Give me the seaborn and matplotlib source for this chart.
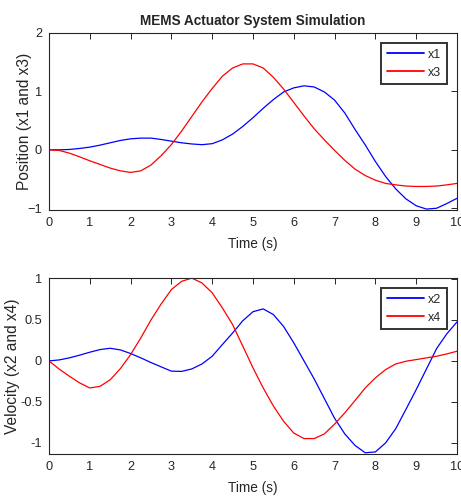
import numpy as np
import pandas as pd
import seaborn as sns
import matplotlib
matplotlib.use("Agg")
import matplotlib.pyplot as plt

# time samples (s)
t = np.arange(0, 10.01, 0.25)

# positions
x1 = [0, 0.0, 0.006, 0.023, 0.046, 0.08, 0.12, 0.16, 0.188, 0.2, 0.2,
      0.177, 0.148, 0.12, 0.1, 0.088, 0.105, 0.17, 0.27, 0.4, 0.55,
      0.71, 0.86, 0.99, 1.06, 1.095, 1.075, 0.99, 0.85, 0.63, 0.35,
      0.085, -0.2, -0.456, -0.67, -0.84, -0.957, -1.014, -1.0, -0.92, -0.83]
x3 = [0, -0.011, -0.057, -0.12, -0.188, -0.25, -0.313, -0.36, -0.387, -0.36, -0.26,
      -0.1, 0.09, 0.32, 0.57, 0.82, 1.05, 1.26, 1.4, 1.47, 1.47,
      1.4, 1.24, 1.04, 0.81, 0.58, 0.36, 0.17, -0.01, -0.18, -0.33,
      -0.44, -0.52, -0.575, -0.6, -0.62, -0.627, -0.627, -0.62, -0.6, -0.575]

# velocities
x2 = [0, 0.012, 0.037, 0.07, 0.106, 0.138, 0.154, 0.134, 0.09, 0.037, -0.02,
      -0.073, -0.125, -0.128, -0.098, -0.037, 0.057, 0.2, 0.34, 0.49, 0.6,
      0.634, 0.565, 0.42, 0.22, 0.0, -0.22, -0.46, -0.7, -0.89, -1.03,
      -1.12, -1.11, -1.0, -0.825, -0.59, -0.35, -0.1, 0.15, 0.33, 0.475]
x4 = [0, -0.1, -0.187, -0.268, -0.33, -0.31, -0.23, -0.094, 0.077, 0.28, 0.5,
      0.695, 0.87, 0.97, 1.01, 0.95, 0.83, 0.646, 0.443, 0.18, -0.085,
      -0.33, -0.55, -0.736, -0.88, -0.947, -0.947, -0.89, -0.77, -0.634, -0.484,
      -0.33, -0.207, -0.106, -0.037, -0.004, 0.016, 0.037, 0.057, 0.085, 0.118]

sns.set_style("white")
plt.rcParams['font.family'] = ['Liberation Sans', 'DejaVu Sans']

fig = plt.figure(figsize=(4.61, 4.96), dpi=100)
ax1 = fig.add_axes([0.1063, 0.5766, 0.885, 0.357])
ax2 = fig.add_axes([0.1063, 0.0847, 0.885, 0.355])

pos = pd.DataFrame({"Time": t, "x1": x1, "x3": x3}).melt("Time", var_name="var", value_name="val")
vel = pd.DataFrame({"Time": t, "x2": x2, "x4": x4}).melt("Time", var_name="var", value_name="val")

sns.lineplot(data=pos, x="Time", y="val", hue="var", palette={"x1": "blue", "x3": "red"},
             ax=ax1, linewidth=0.9)
sns.lineplot(data=vel, x="Time", y="val", hue="var", palette={"x2": "blue", "x4": "red"},
             ax=ax2, linewidth=0.9)

ax1.set_ylim(-1.03, 2)
ax1.set_yticks([-1, 0, 1, 2])
ax2.set_ylim(-1.135, 1.012)
ax2.set_yticks([-1, -0.5, 0, 0.5, 1])
ax2.set_yticklabels(["-1", "-0.5", "0", "0.5", "1"])

ax1.set_title("MEMS Actuator System Simulation", fontsize=9.8, fontweight="bold", pad=6)
ax1.set_ylabel("Position (x1 and x3)", fontsize=11.2)
ax2.set_ylabel("Velocity (x2 and x4)", fontsize=11.2)
ax1.yaxis.set_label_coords(-0.042, 0.5)
ax2.yaxis.set_label_coords(-0.07, 0.5)

for ax in (ax1, ax2):
    ax.set_xlim(0, 10)
    ax.set_xticks(range(0, 11))
    ax.set_xlabel("Time (s)", fontsize=9.8, labelpad=6)
    ax.tick_params(direction="in", length=4, width=0.7, top=True, right=True,
                   labelsize=9.2, colors="0.15", pad=5)
    for s in ax.spines.values():
        s.set_color("0.15")
        s.set_linewidth(0.8)
    leg = ax.legend(loc="upper right", fancybox=False, framealpha=1, edgecolor="0.2",
                    fontsize=9, handlelength=3.0, borderaxespad=0.8,
                    borderpad=0.45, labelspacing=0.5, handletextpad=0.3)
    leg.get_frame().set_linewidth(1.4)
    for line in leg.get_lines():
        line.set_linewidth(1.3)

fig.savefig("out.png", dpi=100)
